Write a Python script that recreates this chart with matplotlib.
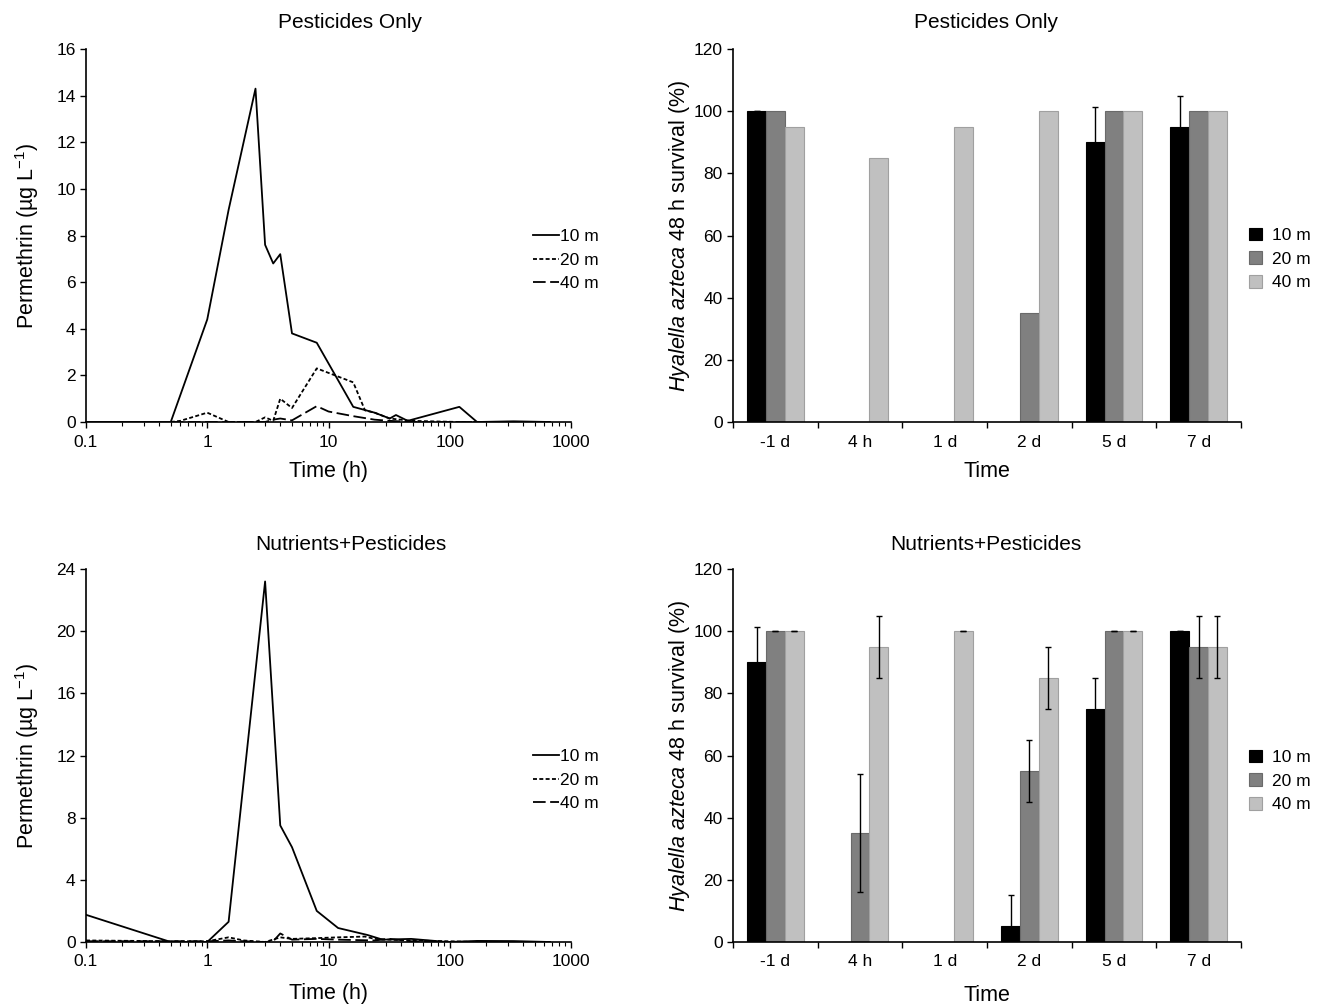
import matplotlib.pyplot as plt
import numpy as np

plt.rcParams['font.family'] = ['Liberation Sans', 'DejaVu Sans']
plt.rcParams['mathtext.fontset'] = 'custom'
plt.rcParams['mathtext.rm'] = 'Liberation Sans'
plt.rcParams['mathtext.it'] = 'Liberation Sans:italic'

# --- permethrin, pesticides only ---
t10_p = [0.1, 0.5, 1, 1.5, 2.5, 3, 3.5, 4, 5, 8, 16, 24, 32, 36, 45, 120, 168, 336, 672]
c10_p = [0, 0, 4.4, 9.1, 14.3, 7.6, 6.8, 7.2, 3.8, 3.4, 0.65, 0.4, 0.15, 0.3, 0.05, 0.65, 0, 0.03, 0]
t20_p = [0.5, 0.6, 1, 1.5, 2, 2.5, 3, 3.5, 4, 5, 8, 16, 20, 24, 32, 48, 120, 168, 336, 672]
c20_p = [0, 0.05, 0.4, 0, 0, 0, 0.2, 0.05, 1.0, 0.6, 2.3, 1.7, 0.5, 0.4, 0.15, 0.05, 0, 0, 0, 0]
t40_p = [0.5, 1, 2, 3, 3.5, 4, 5, 8, 10, 16, 24, 32, 48, 120, 168, 336, 672]
c40_p = [0, 0, 0, 0, 0.1, 0.15, 0.07, 0.68, 0.45, 0.25, 0.1, 0.05, 0, 0, 0, 0, 0]

# --- permethrin, nutrients + pesticides ---
t10_n = [0.1, 0.5, 1, 1.5, 3, 4, 5, 8, 12, 21, 28, 48, 96, 168, 336, 672]
c10_n = [1.75, 0, 0, 1.3, 23.2, 7.5, 6.1, 2.0, 0.9, 0.45, 0.15, 0.2, 0, 0.07, 0.06, 0]
t20_n = [0.1, 0.5, 1, 1.5, 2, 3, 4, 5, 8, 12, 20, 24, 32, 48, 96, 168, 336, 672]
c20_n = [0.1, 0.05, 0.05, 0.3, 0.1, 0.0, 0.3, 0.2, 0.25, 0.3, 0.35, 0.2, 0.15, 0.1, 0.05, 0, 0, 0]
t40_n = [0.1, 0.5, 1, 1.5, 2, 3, 3.5, 4, 5, 8, 12, 24, 32, 48, 96, 168, 336, 672]
c40_n = [0.05, 0.05, 0.05, 0.1, 0.05, 0, 0.05, 0.55, 0.15, 0.2, 0.15, 0.1, 0.2, 0.05, 0, 0, 0, 0]

# --- survival ---
times = ['-1 d', '4 h', '1 d', '2 d', '5 d', '7 d']
s10_p = [100, 0, 0, 0, 90, 95]
s20_p = [100, 0, 0, 35, 100, 100]
s40_p = [95, 85, 95, 100, 100, 100]
e10_p = [0, np.nan, np.nan, np.nan, 11.5, 10]
e20_p = [np.nan] * 6
e40_p = [np.nan] * 6

s10_n = [90, 0, 0, 5, 75, 100]
s20_n = [100, 35, 0, 55, 100, 95]
s40_n = [100, 95, 100, 85, 100, 95]
e10_n = [11.5, np.nan, np.nan, 10, 10, 0]
e20_n = [0, 19, np.nan, 10, 0, 10]
e40_n = [0, 10, 0, 10, 0, 10]

depths = ['10 m', '20 m', '40 m']

fig = plt.figure(figsize=(13.21, 10.08), dpi=100)
W, H = 1321, 1008


def box(x0, x1, ytop, ybot):
    return [x0 / W, 1 - ybot / H, (x1 - x0) / W, (ybot - ytop) / H]


ax_tl = fig.add_axes(box(86, 571, 49, 422))
ax_bl = fig.add_axes(box(86, 571, 569, 942))
ax_tr = fig.add_axes(box(733, 1241, 49, 422))
ax_br = fig.add_axes(box(733, 1241, 569, 942))

styles = ['-', (0, (2.2, 1.3)), (0, (7, 2.5))]
tick_fs = 12.5
lab_fs = 15.5
leg_fs = 12.5
title_fs = 15


def line_panel(ax, series, ymax, ystep, leg_y, xlab_y):
    for (t, c), ls, lab in zip(series, styles, depths):
        ax.plot(t, c, color='black', lw=1.3, linestyle=ls, label=lab)
    ax.set_xscale('log')
    ax.set_xlim(0.1, 1000)
    ax.set_ylim(0, ymax)
    ax.set_xticks([0.1, 1, 10, 100, 1000])
    ax.set_xticklabels(['0.1', '1', '10', '100', '1000'])
    ax.set_yticks(np.arange(0, ymax + 1, ystep))
    for s in ['top', 'right']:
        ax.spines[s].set_visible(False)
    for s in ['left', 'bottom']:
        ax.spines[s].set_linewidth(1.2)
    ax.tick_params(which='major', direction='out', length=4, width=1, labelsize=tick_fs)
    ax.tick_params(axis='x', which='major', pad=5)
    ax.tick_params(which='minor', direction='out', length=3, width=0.8)
    ax.set_xlabel('Time (h)', fontsize=lab_fs)
    ax.xaxis.set_label_coords(0.5, xlab_y)
    ax.set_ylabel('Permethrin (\u00b5g L$^{-1}$)', fontsize=lab_fs)
    ax.yaxis.set_label_coords(-0.092, 0.5)
    ax.legend(loc='center left', bbox_to_anchor=(517 / W, 1 - leg_y / H),
              bbox_transform=fig.transFigure, frameon=False, fontsize=leg_fs,
              handlelength=1.5, handletextpad=0.05, labelspacing=0.5)


def bar_panel(ax, vals, errs, leg_y, xlab_y):
    x = np.arange(len(times))
    w = 0.222
    colors = ['#000000', '#808080', '#c0c0c0']
    edges = ['#000000', '#6a6a6a', '#a0a0a0']
    for i, (v, e) in enumerate(zip(vals, errs)):
        pos = x + (i - 1) * w
        ax.bar(pos, v, width=w, color=colors[i], edgecolor=edges[i], lw=0.8,
               label=depths[i], zorder=2)
        ax.errorbar(pos, v, yerr=e, fmt='none', ecolor='black', elinewidth=1,
                    capsize=2, capthick=1, zorder=3)
    ax.set_xlim(-0.5, len(times) - 0.5)
    ax.set_ylim(0, 120)
    ax.set_yticks(range(0, 121, 20))
    ax.set_xticks(np.arange(-0.5, len(times)), minor=False)
    ax.set_xticklabels([])
    ax.set_xticks(x, minor=True)
    ax.set_xticklabels(times, minor=True)
    for s in ['top', 'right']:
        ax.spines[s].set_visible(False)
    for s in ['left', 'bottom']:
        ax.spines[s].set_linewidth(1.2)
    ax.tick_params(which='major', direction='out', length=4, width=1, labelsize=tick_fs)
    ax.tick_params(which='minor', length=0, labelsize=tick_fs, pad=9)
    ax.set_xlabel('Time', fontsize=lab_fs)
    ax.xaxis.set_label_coords(0.5, xlab_y)
    ax.set_ylabel('$\\mathit{Hyalella\\ azteca}$ 48 h survival (%)', fontsize=lab_fs)
    ax.yaxis.set_label_coords(-0.08, 0.5)
    ax.legend(loc='center left', bbox_to_anchor=(1233 / W, 1 - leg_y / H),
              bbox_transform=fig.transFigure, frameon=False, fontsize=leg_fs,
              handlelength=0.75, handleheight=0.75, handletextpad=0.6,
              labelspacing=0.47)


line_panel(ax_tl, [(t10_p, c10_p), (t20_p, c20_p), (t40_p, c40_p)], 16, 2, 260, -0.105)
line_panel(ax_bl, [(t10_n, c10_n), (t20_n, c20_n), (t40_n, c40_n)], 24, 4, 780, -0.11)
bar_panel(ax_tr, [s10_p, s20_p, s40_p], [e10_p, e20_p, e40_p], 259, -0.105)
bar_panel(ax_br, [s10_n, s20_n, s40_n], [e10_n, e20_n, e40_n], 781, -0.115)

fig.text(350 / W, 1 - 22 / H, 'Pesticides Only', ha='center', va='center', fontsize=title_fs)
fig.text(986 / W, 1 - 22 / H, 'Pesticides Only', ha='center', va='center', fontsize=title_fs)
fig.text(351 / W, 1 - 545 / H, 'Nutrients+Pesticides', ha='center', va='center', fontsize=title_fs)
fig.text(986 / W, 1 - 545 / H, 'Nutrients+Pesticides', ha='center', va='center', fontsize=title_fs)

fig.savefig('out.png', dpi=100, facecolor='white')
